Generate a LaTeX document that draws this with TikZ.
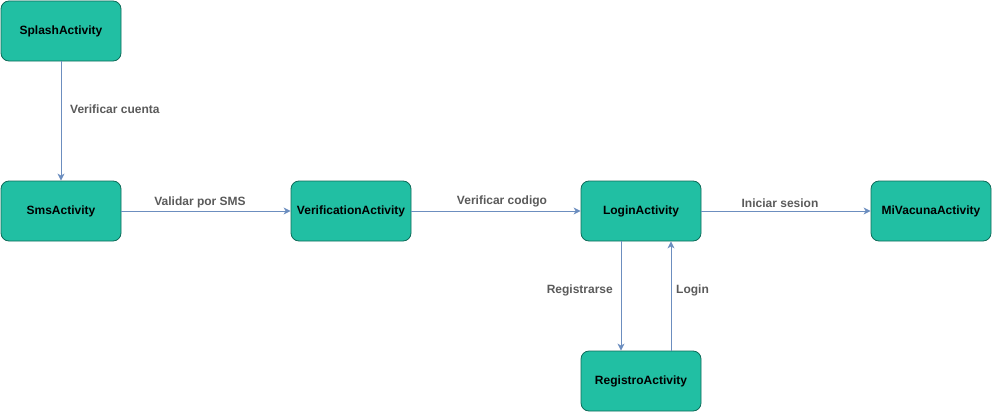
\documentclass[tikz,border=0pt]{standalone}
\usepackage{fontspec}
\setsansfont{Liberation Sans}
\usepackage{tikz}
\usetikzlibrary{arrows.meta,calc}
\usepackage{xcolor}
\definecolor{actfill}{HTML}{21BFA3}
\definecolor{actdraw}{HTML}{0E6B59}
\definecolor{flowline}{HTML}{6C8EBF}
\definecolor{flowtext}{HTML}{5A5A5A}

\begin{document}
\begin{tikzpicture}[
        x=1pt, y=-1pt,
        %Environment config
        font=\sffamily\bfseries\fontsize{12}{14}\selectfont,
        %Environment styles
        ActCfg/.style={
            draw=actdraw,
            fill=actfill,
            rounded corners=8pt,
            minimum width=120pt,
            minimum height=60pt,
            line width=0.8pt
        },
        FlowCfg/.style={
            draw=flowline,
            line width=1pt,
            -{Stealth[length=7pt,width=7pt,inset=2pt]}
        },
        LblCfg/.style={
            text=flowtext,
            inner sep=2pt
        }
    ]
    \useasboundingbox (0,0) rectangle (992,412);
    \path
        (61,31) node[ActCfg](SPLASH){SplashActivity}
            ++ (0,180) node[ActCfg](SMS){SmsActivity}
            ++ (290,0) node[ActCfg](VERIF){VerificationActivity}
            ++ (290,0) node[ActCfg](LOGIN){LoginActivity}
            ++ (290,0) node[ActCfg](MIVAC){MiVacunaActivity}
        (LOGIN)
            ++ (0,170) node[ActCfg](REG){RegistroActivity};

    \draw[FlowCfg]
        (SPLASH.south) -- (SMS.north);
    \draw[FlowCfg]
        (SMS.east) -- (VERIF.west) node [midway,anchor=south,LblCfg,xshift=-6pt,yshift=1pt]{Validar por SMS};
    \draw[FlowCfg]
        (VERIF.east) -- (LOGIN.west) node [midway,anchor=south,LblCfg,xshift=6pt,yshift=1pt]{Verificar codigo};
    \draw[FlowCfg]
        (LOGIN.east) -- (MIVAC.west) node [midway,anchor=south,LblCfg,xshift=-6pt,yshift=1pt]{Iniciar sesion};
    \draw[FlowCfg]
        ([xshift=-20pt]LOGIN.south) -- ([xshift=-20pt]REG.north);
    \draw[FlowCfg]
        ([xshift=30pt]REG.north) -- ([xshift=30pt]LOGIN.south);

    %edge labels
    \node[LblCfg,anchor=west](LBLCUENTA) at ($(SPLASH.south)!0.4!(SMS.north)+(7,0)$){Verificar cuenta};
    \node[LblCfg,anchor=east](LBLREG) at ($([xshift=-20pt]LOGIN.south)!0.45!([xshift=-20pt]REG.north)+(-6,0)$){Registrarse};
    \node[LblCfg,anchor=west](LBLLOGIN) at ($([xshift=30pt]LOGIN.south)!0.45!([xshift=30pt]REG.north)+(3,0)$){Login};
\end{tikzpicture}
\end{document}
